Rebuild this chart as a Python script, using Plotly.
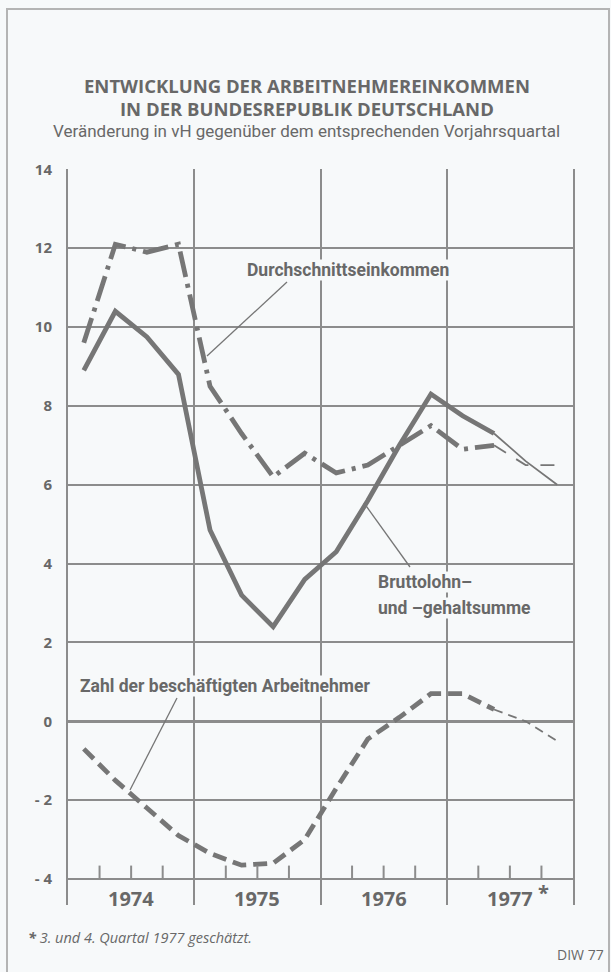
import numpy as np
import plotly.graph_objects as go

# ---------------- data ----------------
quarters = ["1974 Q1", "1974 Q2", "1974 Q3", "1974 Q4",
            "1975 Q1", "1975 Q2", "1975 Q3", "1975 Q4",
            "1976 Q1", "1976 Q2", "1976 Q3", "1976 Q4",
            "1977 Q1", "1977 Q2", "1977 Q3", "1977 Q4"]
years = ["1974", "1975", "1976", "1977"]

durchschnitt = [9.6, 12.1, 11.9, 12.1, 8.5, 7.3, 6.2, 6.8,
                6.3, 6.5, 7.0, 7.5, 6.9, 7.0, 6.5, 6.5]
brutto = [8.9, 10.4, 9.75, 8.8, 4.85, 3.2, 2.4, 3.6,
          4.3, 5.6, 7.0, 8.3, 7.75, 7.3, 6.6, 6.0]
beschaeftigte = [-0.7, -1.5, -2.2, -2.9, -3.35, -3.65, -3.6, -3.0,
                 -1.7, -0.45, 0.1, 0.7, 0.7, 0.3, 0.0, -0.5]
n_actual = 14  # last two quarters of 1977 are estimates

y_ticks = [-4, -2, 0, 2, 4, 6, 8, 10, 12, 14]
y_ticktext = ["- 4", "- 2", "0", "2", "4", "6", "8", "10", "12", "14"]

# ---------------- styling ----------------
LINE = "#767676"
GRID = "#8c8c8c"
TEXT = "#686868"
BG = "#f7f9fa"
W, H = 611, 972
ML, MR, MT, MB = 68, 38, 169, 67

x = np.arange(len(quarters)) + 0.5

fig = go.Figure()


def add_series(vals, dash_thick, dash_thin, name):
    fig.add_trace(go.Scatter(x=x[:n_actual], y=vals[:n_actual], mode="lines",
                             line=dict(color=LINE, width=4.8, dash=dash_thick),
                             name=name, showlegend=False, hoverinfo="skip"))
    fig.add_trace(go.Scatter(x=x[n_actual - 1:], y=vals[n_actual - 1:], mode="lines",
                             line=dict(color=LINE, width=1.8, dash=dash_thin),
                             name=name + " (geschätzt)", showlegend=False, hoverinfo="skip"))


add_series(durchschnitt, "26px,7px,4px,7px", "14px,12px", "Durchschnittseinkommen")
add_series(brutto, "solid", "solid", "Bruttolohn- und -gehaltsumme")
add_series(beschaeftigte, "14px,7px", "9px,6px", "Zahl der beschäftigten Arbeitnehmer")

PX_PER_Q = (W - ML - MR) / 16.0
Y_MIN, Y_MAX = -4.66, 14.01
PX_PER_U = (H - MT - MB) / (Y_MAX - Y_MIN)


def dx(p):
    return (p - ML) / PX_PER_Q


def dy(p):
    return Y_MAX - (p - MT) / PX_PER_U


def px_x(p):
    return (p - ML) / (W - ML - MR)


def px_y(p):
    return (H - MB - p) / (H - MT - MB)


shapes = []
# quarter tick marks above the -4 line
for q in range(1, 16):
    if q % 4 == 0:
        continue
    shapes.append(dict(type="line", xref="x", yref="y", x0=q, x1=q, y0=-4, y1=-3.66,
                       line=dict(color=GRID, width=2)))
# leader lines (pixel positions of label connectors)
leaders = [((287, 282), (207, 356)),
           ((364, 503), (410, 567)),
           ((177, 698), (130, 790))]
for (x0, y0), (x1, y1) in leaders:
    shapes.append(dict(type="line", xref="x", yref="y", x0=dx(x0), y0=dy(y0),
                       x1=dx(x1), y1=dy(y1), line=dict(color=LINE, width=1.3)))

# outer frame
shapes.append(dict(type="rect", xref="paper", yref="paper",
                   x0=px_x(7), x1=px_x(609), y0=px_y(985), y1=px_y(9),
                   line=dict(color="#b4b4b4", width=2), layer="below"))

ann = []
TITLE = dict(family="Open Sans", size=18.5, color=TEXT)
ann.append(dict(xref="paper", yref="paper", x=px_x(307), y=px_y(86),
                text="<b>ENTWICKLUNG DER ARBEITNEHMEREINKOMMEN</b>", showarrow=False,
                font=TITLE, xanchor="center", yanchor="middle"))
ann.append(dict(xref="paper", yref="paper", x=px_x(307), y=px_y(108),
                text="<b>IN DER BUNDESREPUBLIK DEUTSCHLAND</b>", showarrow=False,
                font=TITLE, xanchor="center", yanchor="middle"))
ann.append(dict(xref="paper", yref="paper", x=px_x(306), y=px_y(131),
                text="Veränderung in vH gegenüber dem entsprechenden Vorjahrsquartal",
                showarrow=False, font=dict(family="Roboto", size=17, color=TEXT),
                xanchor="center", yanchor="middle"))

LBL = dict(family="Roboto", size=17.5, color=TEXT)
labels = [("Durchschnittseinkommen", 246, 270),
          ("Bruttolohn–", 377, 582),
          ("und –gehaltsumme", 377, 608),
          ("Zahl der beschäftigten Arbeitnehmer", 79, 686)]
for txt, lx, ly in labels:
    ann.append(dict(xref="x", yref="y", x=dx(lx), y=dy(ly), text="<b>" + txt + "</b>",
                    showarrow=False, font=LBL, xanchor="left", yanchor="middle",
                    bgcolor=BG, borderpad=0))

# year labels
for i, yr in enumerate(years):
    ann.append(dict(xref="x", yref="y", x=4 * i + 2, y=dy(898), text="<b>" + yr + "</b>",
                    showarrow=False, font=dict(family="Open Sans", size=20, color=TEXT),
                    xanchor="center", yanchor="middle"))
ann.append(dict(xref="x", yref="y", x=dx(543), y=dy(892), text="<b>*</b>",
                showarrow=False, font=dict(family="Open Sans", size=20, color=TEXT),
                xanchor="center", yanchor="middle"))

# footnote and source
ann.append(dict(xref="paper", yref="paper", x=px_x(26), y=px_y(937),
                text="<i><b>*</b> 3. und 4. Quartal 1977 geschätzt.</i>", showarrow=False,
                font=dict(family="Open Sans", size=14.5, color=TEXT),
                xanchor="left", yanchor="middle"))
ann.append(dict(xref="paper", yref="paper", x=px_x(606), y=px_y(955),
                text="DIW 77", showarrow=False,
                font=dict(family="Open Sans", size=14, color=TEXT),
                xanchor="right", yanchor="middle"))

fig.update_layout(
    width=W, height=H,
    margin=dict(l=ML, r=MR, t=MT, b=MB),
    paper_bgcolor=BG, plot_bgcolor=BG,
    shapes=shapes, annotations=ann,
    xaxis=dict(range=[0, 16], tickvals=[0, 4, 8, 12, 16], showticklabels=False,
               showgrid=True, gridcolor=GRID, gridwidth=2, zeroline=False,
               showline=False, ticks="", fixedrange=True),
    yaxis=dict(range=[Y_MIN, Y_MAX], tickvals=y_ticks,
               ticktext=["<b>" + t + "</b>" for t in y_ticktext],
               showgrid=True, gridcolor=GRID, gridwidth=2,
               zeroline=True, zerolinecolor=GRID, zerolinewidth=2.6,
               showline=True, linecolor=GRID, linewidth=2, mirror=True,
               ticks="", ticklabelstandoff=11,
               tickfont=dict(family="Open Sans", size=15, color=TEXT),
               fixedrange=True),
)

fig.write_html("out.html",
               config={"displayModeBar": False, "staticPlot": True},
               post_script="document.body.style.margin='0';"
                           "document.body.style.overflow='hidden';")
